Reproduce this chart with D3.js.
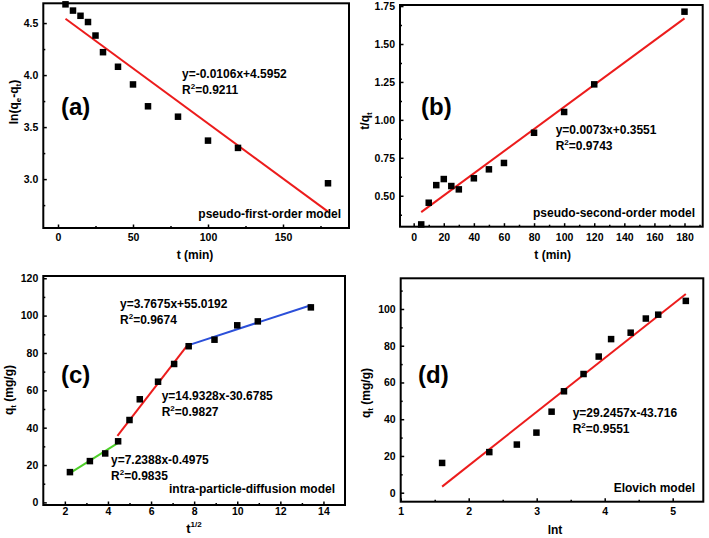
<!DOCTYPE html>
<html><head><meta charset="utf-8">
<script src="https://cdn.jsdelivr.net/npm/d3@7"></script>
<style>
html,body{margin:0;padding:0;background:#fff;}
svg{display:block;font-family:"Liberation Sans",Arial,sans-serif;font-weight:bold;}
</style></head>
<body><svg id="c" width="709" height="538"></svg>
<script>
// ---- data ----
const tMin   = [5,10,15,20,25,30,40,50,60,80,100,120,180];
const lnQeQt = [4.68,4.62,4.57,4.51,4.38,4.22,4.08,3.91,3.70,3.60,3.37,3.30,2.96];
const tOverQt= [0.311,0.454,0.570,0.610,0.564,0.542,0.615,0.674,0.716,0.915,1.052,1.234,1.713];
const sqrtT  = [2.236,3.162,3.873,4.472,5.0,5.477,6.325,7.071,7.746,8.944,10.0,10.954,13.416];
const lnT    = [1.609,2.303,2.708,2.996,3.219,3.401,3.689,3.912,4.094,4.382,4.605,4.787,5.193];
const qt     = [16.2,22.1,26.2,32.7,44.1,55.2,64.6,74.1,83.6,87.1,94.8,96.9,104.4];

// fitted line end points
const fitAx = [5,180],        fitAy = [4.542,2.687];
const fitBx = [5,180],        fitBy = [0.392,1.669];
const fitC1x = [2.236,4.472], fitC1y = [15.7,31.9];
const fitC2x = [4.44,7.746],  fitC2y = [35.6,85.0];
const fitC3x = [7.746,13.45], fitC3y = [84.2,105.7];
const fitDx = [1.609,5.193],  fitDy = [3.3,108.2];

// tick values
const ticksAx = [0,50,100,150],           minorAx = [25,75,125,175];
const ticksAy = [3.0,3.5,4.0,4.5],        minorAy = [2.75,3.25,3.75,4.25];
const ticksBx = [0,20,40,60,80,100,120,140,160,180], minorBx = [10,30,50,70,90,110,130,150,170,190];
const ticksBy = [0.5,0.75,1.0,1.25,1.5,1.75], minorBy = [0.375,0.625,0.875,1.125,1.375,1.625];
const ticksCx = [2,4,6,8,10,12,14],       minorCx = [3,5,7,9,11,13];
const ticksCy = [0,20,40,60,80,100,120],  minorCy = [10,30,50,70,90,110];
const ticksDx = [1,2,3,4,5],              minorDx = [1.5,2.5,3.5,4.5];
const ticksDy = [0,20,40,60,80,100],      minorDy = [10,30,50,70,90,110];

const RED = "#ec1c1c", GREEN = "#4fcf2a", BLUE = "#2b4fd9";
const svg = d3.select("#c");

function panel(cfg){
  const x = d3.scaleLinear().domain(cfg.xd).range([cfg.x0,cfg.x1]);
  const y = d3.scaleLinear().domain(cfg.yd).range([cfg.y1,cfg.y0]);
  const g = svg.append("g");
  const ax = g.append("g").attr("transform",`translate(0,${cfg.y1})`)
    .call(d3.axisBottom(x).tickValues(cfg.tx).tickSize(-3.5).tickPadding(cfg.pad).tickFormat(cfg.fx));
  const axm = g.append("g").attr("transform",`translate(0,${cfg.y1})`)
    .call(d3.axisBottom(x).tickValues(cfg.mx).tickSize(-2).tickFormat(""));
  const ay = g.append("g").attr("transform",`translate(${cfg.x0},0)`)
    .call(d3.axisLeft(y).tickValues(cfg.ty).tickSize(-3.5).tickPadding(5).tickFormat(cfg.fy));
  const aym = g.append("g").attr("transform",`translate(${cfg.x0},0)`)
    .call(d3.axisLeft(y).tickValues(cfg.my).tickSize(-2).tickFormat(""));
  [ax,axm,ay,aym].forEach(a=>{
    a.select(".domain").remove();
    a.selectAll("line").attr("stroke","#000").attr("stroke-width",1.5);
    a.selectAll("text").filter(function(){return this.textContent==="";}).remove();
    a.selectAll("text").attr("font-family","Liberation Sans, Arial, sans-serif")
      .attr("font-weight","bold").attr("font-size",10.5).attr("fill","#000");
  });
  g.append("rect").attr("x",cfg.x0).attr("y",cfg.y0)
    .attr("width",cfg.x1-cfg.x0).attr("height",cfg.y1-cfg.y0)
    .attr("fill","none").attr("stroke","#000").attr("stroke-width",2);
  cfg.fits.forEach(f=>{
    g.append("line").attr("x1",x(f.xs[0])).attr("y1",y(f.ys[0]))
      .attr("x2",x(f.xs[1])).attr("y2",y(f.ys[1]))
      .attr("stroke",f.c).attr("stroke-width",2);
  });
  const s = 6.5;
  g.selectAll("rect.pt").data(cfg.px.map((v,i)=>[v,cfg.py[i]])).enter()
    .append("rect").attr("class","pt")
    .attr("x",d=>x(d[0])-s/2).attr("y",d=>y(d[1])-s/2)
    .attr("width",s).attr("height",s).attr("fill","#000");
  return g;
}

function txt(x,y,parts,opts={}){
  const size = opts.size||12;
  const t = svg.append("text").attr("x",x).attr("y",y)
    .attr("font-size",size).attr("fill","#000")
    .attr("text-anchor",opts.anchor||"start");
  if(opts.rotate) t.attr("transform",`rotate(-90,${x},${y})`);
  let carry = 0;
  parts.forEach(p=>{
    if(typeof p==="string"){
      t.append("tspan").attr("dy",carry).attr("font-size",size).text(p); carry = 0;
    } else if(p.sub){
      t.append("tspan").attr("dy",carry+3).attr("font-size",8).text(p.sub); carry = -3;
    } else if(p.sup){
      const up = opts.supUp||5;
      t.append("tspan").attr("dy",carry-up).attr("font-size",8).text(p.sup); carry = up;
    }
  });
  return t;
}

const f2 = d3.format(".2f"), f1 = d3.format(".1f"), f0 = d3.format("d");

panel({x0:43.3,x1:349,y0:3.3,y1:228,xd:[-9.8,194],yd:[2.53,4.69],pad:6,
  tx:ticksAx,mx:minorAx,ty:ticksAy,my:minorAy,fx:f0,fy:f1,
  px:tMin,py:lnQeQt,fits:[{xs:fitAx,ys:fitAy,c:RED}]});
panel({x0:400,x1:702.7,y0:5,y1:226.7,xd:[-9.1,192.1],yd:[0.296,1.757],pad:7,
  tx:ticksBx,mx:minorBx,ty:ticksBy,my:minorBy,fx:f0,fy:f2,
  px:tMin,py:tOverQt,fits:[{xs:fitBx,ys:fitBy,c:RED}]});
panel({x0:43.3,x1:345,y0:276,y1:505,xd:[1.0,15.0],yd:[-1.4,121.2],pad:3,
  tx:ticksCx,mx:minorCx,ty:ticksCy,my:minorCy,fx:f0,fy:f0,
  px:sqrtT,py:qt,fits:[{xs:fitC1x,ys:fitC1y,c:GREEN},{xs:fitC2x,ys:fitC2y,c:RED},{xs:fitC3x,ys:fitC3y,c:BLUE}]});
panel({x0:400.7,x1:703.3,y0:278.3,y1:501.7,xd:[1.0,5.45],yd:[-4.9,116.7],pad:6,
  tx:ticksDx,mx:minorDx,ty:ticksDy,my:minorDy,fx:f0,fy:f0,
  px:lnT,py:qt,fits:[{xs:fitDx,ys:fitDy,c:RED}]});

// panel labels
txt(61,115,["(a)"],{size:24});
txt(421,115,["(b)"],{size:24});
txt(61,383,["(c)"],{size:24});
txt(418,383,["(d)"],{size:24});

// equations
txt(182,78,["y=-0.0106x+4.5952"]);
txt(182,94,["R",{sup:"2"},"=0.9211"]);
txt(555.7,134,["y=0.0073x+0.3551"]);
txt(555.7,149.5,["R",{sup:"2"},"=0.9743"]);
txt(120,308,["y=3.7675x+55.0192"]);
txt(120,324,["R",{sup:"2"},"=0.9674"]);
txt(161.7,400,["y=14.9328x-30.6785"]);
txt(161.7,416,["R",{sup:"2"},"=0.9827"]);
txt(111,464,["y=7.2388x-0.4975"]);
txt(111,479.5,["R",{sup:"2"},"=0.9835"]);
txt(572.7,417.3,["y=29.2457x-43.716"]);
txt(572.7,433.3,["R",{sup:"2"},"=0.9551"]);

// model names
txt(341,218,["pseudo-first-order model"],{anchor:"end"});
txt(695,217,["pseudo-second-order model"],{anchor:"end"});
txt(335,492.5,["intra-particle-diffusion model"],{anchor:"end"});
txt(695,492,["Elovich model"],{anchor:"end"});

// axis titles
txt(195,259,["t (min)"],{anchor:"middle"});
txt(552.7,259,["t (min)"],{anchor:"middle"});
txt(194,533,["t",{sup:"1/2"}],{anchor:"middle",size:13,supUp:6});
txt(555,534,["lnt"],{anchor:"middle"});
txt(18,102,["ln(q",{sub:"e"},"-q",{sub:"t"},")"],{anchor:"middle",rotate:true});
txt(368.5,121,["t/q",{sub:"t"}],{anchor:"middle",rotate:true});
txt(13,390,["q",{sub:"t"}," (mg/g)"],{anchor:"middle",rotate:true});
txt(369.5,393,["q",{sub:"t"}," (mg/g)"],{anchor:"middle",rotate:true});
</script></body></html>
